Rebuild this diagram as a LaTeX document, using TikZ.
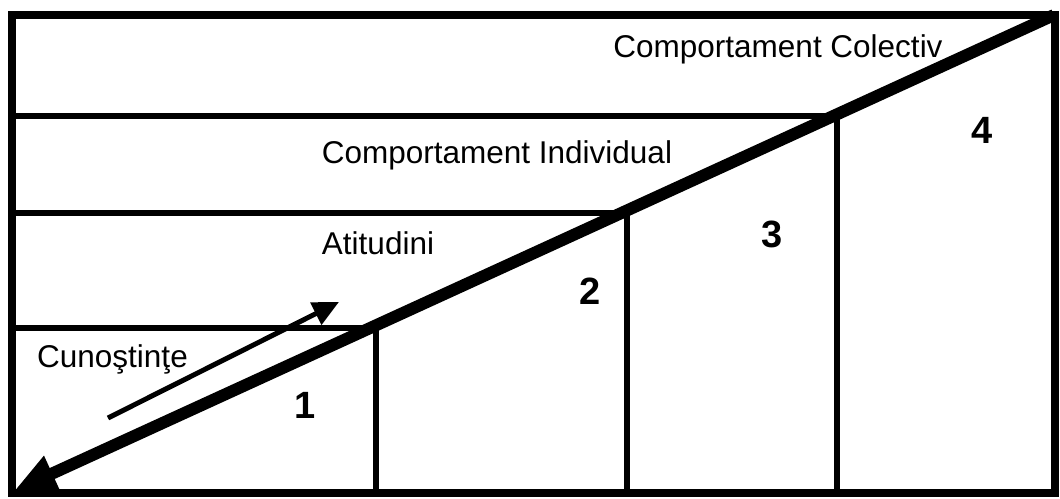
\documentclass[tikz,border=0pt]{standalone}
\usepackage{fontspec}
\setmainfont{Liberation Sans}
\usetikzlibrary{arrows.meta}
\begin{document}
\begin{tikzpicture}[x=1pt,y=-1pt,
  frame/.style={line width=8pt,line join=miter},
  divider/.style={line width=6pt},
  lbl/.style={font=\fontsize{31.5}{36}\selectfont,inner sep=0pt,anchor=base},
  num/.style={font=\fontsize{38}{42}\selectfont\bfseries,inner sep=0pt,anchor=base},
  bigarrow/.style={line width=12pt,-{Triangle[length=42pt,width=36pt]}},
  smallarrow/.style={line width=5pt,-{Triangle[length=26pt,width=24pt]}}]
\useasboundingbox (0,0) rectangle (1060,498);
% frame corners
\coordinate (tl) at (12,14.5);
\coordinate (tr) at (1055,14.5);
\coordinate (br) at (1055,493);
\coordinate (bl) at (12,493);
\draw[frame] (tl) -- (tr) -- (br) -- (bl) -- cycle;
% step corners
\coordinate (c1) at (376,328);
\coordinate (c2) at (627,213);
\coordinate (c3) at (837,116);
\coordinate (l1) at (12,328);
\coordinate (l2) at (12,213);
\coordinate (l3) at (12,116);
\coordinate (b1) at (376,493);
\coordinate (b2) at (627,493);
\coordinate (b3) at (837,493);
\draw[divider] (l1) -- (c1) -- (b1);
\draw[divider] (l2) -- (c2) -- (b2);
\draw[divider] (l3) -- (c3) -- (b3);
% diagonal arrow
\coordinate (dstart) at (1054,15);
\coordinate (dend) at (14,491);
\draw[bigarrow] (dstart) -- (dend);
% small arrow
\coordinate (sa) at (108,418);
\coordinate (sb) at (339,302);
\draw[smallarrow] (sa) -- (sb);
% labels
\node[lbl] (colectiv) at (778,57) {Comportament Colectiv};
\node[lbl] (individual) at (497,163) {Comportament Individual};
\node[lbl] (atitudini) at (378,254) {Atitudini};
\node[lbl,anchor=base west] (cunostinte) at (37,367) {Cunoştinţe};
\node[num] (n1) at (305,418) {1};
\node[num] (n2) at (590,304) {2};
\node[num] (n3) at (772,247) {3};
\node[num] (n4) at (982,143) {4};
\end{tikzpicture}
\end{document}
